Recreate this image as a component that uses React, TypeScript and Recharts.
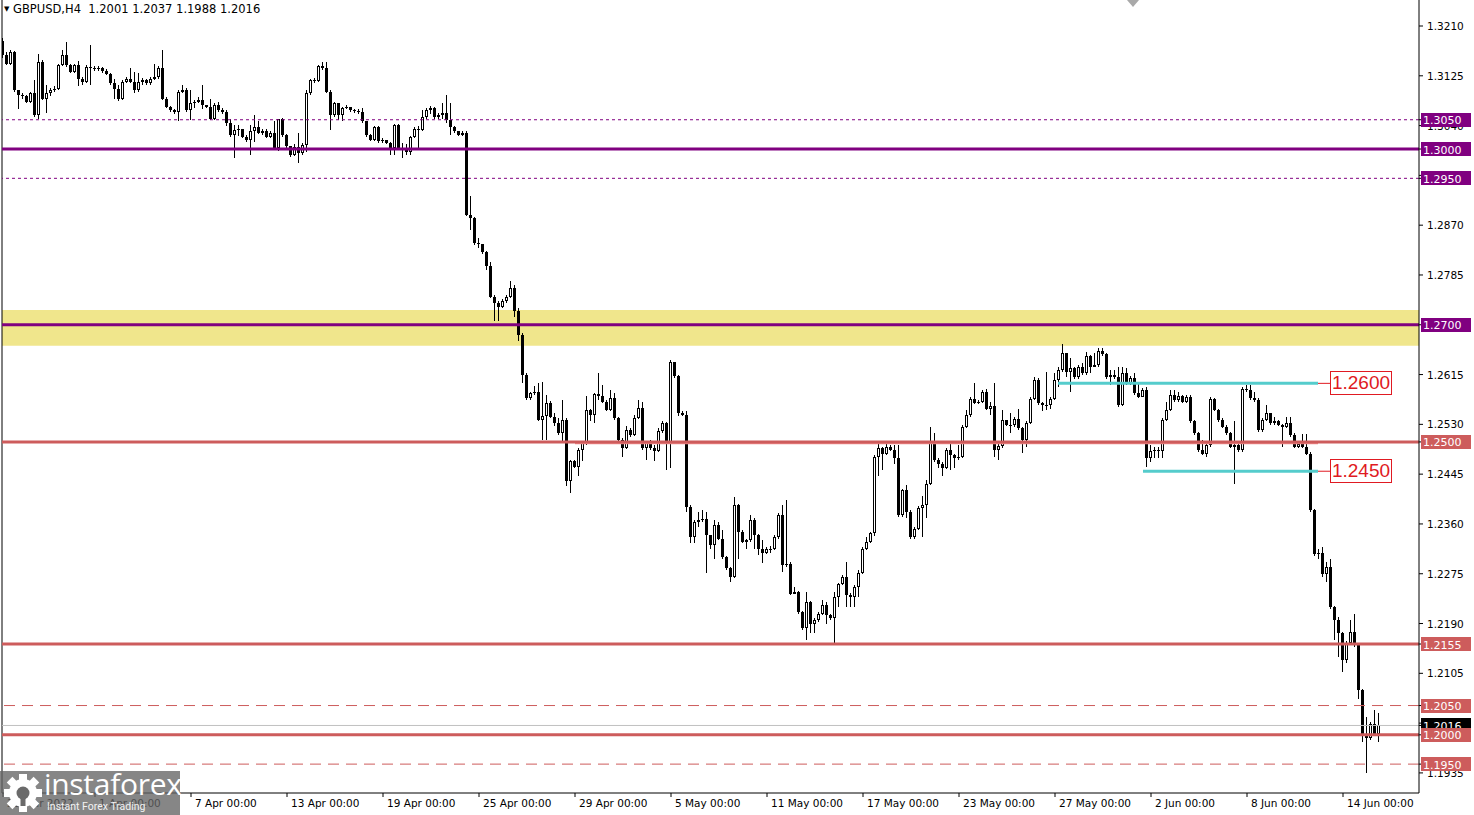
import React from 'react'
import { ComposedChart, Bar, XAxis, YAxis, ReferenceLine, ReferenceArea } from 'recharts'

const FONT = '"DejaVu Sans", Tahoma, sans-serif'
const PURPLE = '#800080'
const SALMON = '#cd5c5c'
const CYAN = '#55cccc'

// GBPUSD H4 candles, prices in pips (x 1e-4). index 0 = 28 Mar 00:00
const firstOpen = 13190
const closes = [
  13185, 13160, 13146, 13166, 13101, 13092, 13090, 13081, 13095, 13058,
  13149, 13086, 13095, 13101, 13103, 13143, 13160, 13143, 13132, 13143,
  13120, 13114, 13140, 13138, 13136, 13139, 13133, 13128, 13112, 13103,
  13085, 13115, 13119, 13115, 13100, 13115, 13118, 13113, 13120, 13123,
  13138, 13086, 13072, 13066, 13063, 13098, 13100, 13066, 13078, 13081,
  13084, 13075, 13072, 13052, 13075, 13066, 13064, 13044, 13024, 13032,
  13035, 13021, 13015, 13030, 13038, 13027, 13031, 13021, 13027, 13001,
  13051, 13024, 13005, 12990, 13004, 12993, 13007, 13095, 13118, 13116,
  13141, 13138, 13098, 13058, 13078, 13058, 13070, 13072, 13067, 13065,
  13063, 13047, 13024, 13016, 13038, 13013, 13015, 13011, 13001, 13041,
  13001, 12998, 12995, 13021, 13035, 13033, 13055, 13067, 13070, 13055,
  13058, 13061, 13050, 13038, 13030, 13024, 13027, 12888, 12882, 12839,
  12838, 12825, 12800, 12748, 12737, 12731, 12740, 12748, 12763, 12723,
  12683, 12615, 12575, 12583, 12586, 12538, 12545, 12567, 12543, 12532,
  12515, 12538, 12433, 12467, 12458, 12487, 12498, 12555, 12546, 12581,
  12578, 12569, 12555, 12575, 12541, 12504, 12490, 12521, 12512, 12541,
  12558, 12490, 12498, 12490, 12484, 12518, 12532, 12498, 12637, 12612,
  12549, 12546, 12389, 12338, 12364, 12367, 12369, 12341, 12324, 12358,
  12335, 12304, 12284, 12270, 12392, 12347, 12330, 12332, 12367, 12341,
  12318, 12311, 12317, 12318, 12337, 12375, 12290, 12292, 12241, 12244,
  12210, 12182, 12227, 12190, 12196, 12207, 12221, 12204, 12199, 12236,
  12258, 12270, 12239, 12236, 12253, 12276, 12318, 12330, 12344, 12475,
  12489, 12480, 12492, 12486, 12472, 12375, 12418, 12381, 12338, 12352,
  12387, 12392, 12429, 12498, 12469, 12463, 12455, 12486, 12478, 12472,
  12475, 12526, 12546, 12573, 12567, 12569, 12586, 12557, 12561, 12486,
  12493, 12537, 12529, 12529, 12539, 12523, 12503, 12532, 12574, 12606,
  12566, 12563, 12563, 12574, 12606, 12623, 12651, 12620, 12626, 12611,
  12628, 12617, 12646, 12628, 12631, 12656, 12650, 12611, 12614, 12611,
  12563, 12617, 12600, 12609, 12583, 12577, 12588, 12472, 12484, 12486,
  12485, 12537, 12555, 12580, 12572, 12578, 12569, 12577, 12535, 12515,
  12486, 12480, 12495, 12573, 12555, 12537, 12526, 12515, 12492, 12495,
  12486, 12591, 12589, 12575, 12572, 12520, 12537, 12549, 12532, 12535,
  12529, 12526, 12532, 12512, 12492, 12497, 12492, 12480, 12383, 12309,
  12310, 12275, 12287, 12218, 12196, 12173, 12127, 12156, 12176, 12153,
  12076, 11999, 11994, 12019, 12002, 12016,
]
const highs = [
  13195, 13190, 13166, 13169, 13168, 13101, 13095, 13092, 13097, 13118,
  13163, 13152, 13109, 13104, 13108, 13146, 13169, 13183, 13145, 13146,
  13150, 13123, 13143, 13177, 13142, 13142, 13140, 13136, 13130, 13120,
  13110, 13118, 13123, 13138, 13132, 13129, 13121, 13120, 13123, 13146,
  13142, 13169, 13088, 13073, 13068, 13101, 13109, 13105, 13100, 13084,
  13088, 13109, 13076, 13086, 13078, 13080, 13070, 13066, 13052, 13041,
  13041, 13028, 13024, 13041, 13058, 13047, 13035, 13035, 13030, 13047,
  13052, 13053, 13026, 13006, 13008, 13027, 13010, 13101, 13120, 13122,
  13143, 13149, 13149, 13100, 13080, 13078, 13072, 13075, 13072, 13069,
  13068, 13070, 13048, 13025, 13040, 13040, 13018, 13016, 13012, 13043,
  13043, 13010, 13008, 13023, 13037, 13040, 13067, 13070, 13073, 13072,
  13062, 13078, 13092, 13078, 13040, 13031, 13031, 13030, 12919, 12884,
  12848, 12838, 12826, 12808, 12750, 12740, 12744, 12751, 12774, 12768,
  12729, 12686, 12617, 12586, 12595, 12600, 12603, 12580, 12570, 12549,
  12540, 12572, 12540, 12470, 12470, 12490, 12502, 12578, 12557, 12583,
  12618, 12598, 12572, 12589, 12583, 12543, 12506, 12527, 12524, 12546,
  12572, 12569, 12502, 12504, 12494, 12524, 12535, 12534, 12640, 12632,
  12614, 12552, 12552, 12392, 12366, 12381, 12384, 12381, 12340, 12367,
  12364, 12350, 12306, 12286, 12406, 12394, 12349, 12335, 12375, 12370,
  12343, 12332, 12320, 12322, 12341, 12378, 12392, 12401, 12295, 12253,
  12246, 12212, 12244, 12229, 12199, 12210, 12230, 12227, 12206, 12244,
  12260, 12272, 12295, 12242, 12255, 12281, 12320, 12338, 12347, 12478,
  12498, 12492, 12498, 12494, 12495, 12495, 12420, 12426, 12383, 12355,
  12390, 12407, 12435, 12525, 12515, 12472, 12465, 12489, 12498, 12480,
  12495, 12529, 12555, 12577, 12600, 12571, 12589, 12590, 12569, 12600,
  12500, 12555, 12537, 12549, 12542, 12557, 12525, 12535, 12577, 12611,
  12609, 12568, 12620, 12577, 12617, 12628, 12667, 12652, 12643, 12628,
  12631, 12634, 12654, 12648, 12652, 12660, 12660, 12652, 12623, 12623,
  12628, 12628, 12626, 12612, 12617, 12600, 12592, 12594, 12495, 12492,
  12492, 12540, 12569, 12589, 12589, 12586, 12580, 12580, 12580, 12537,
  12517, 12503, 12498, 12577, 12575, 12557, 12540, 12529, 12517, 12535,
  12497, 12594, 12597, 12597, 12586, 12575, 12540, 12563, 12549, 12543,
  12537, 12531, 12543, 12543, 12515, 12500, 12514, 12514, 12483, 12385,
  12318, 12321, 12295, 12301, 12220, 12201, 12175, 12160, 12196, 12207,
  12155, 12079, 12031, 12022, 12042, 12037,
]
const lows = [
  13180, 13155, 13143, 13144, 13098, 13069, 13086, 13078, 13079, 13055,
  13052, 13083, 13061, 13090, 13098, 13100, 13141, 13140, 13130, 13130,
  13108, 13110, 13112, 13110, 13133, 13133, 13130, 13126, 13110, 13086,
  13082, 13083, 13112, 13112, 13095, 13098, 13110, 13110, 13110, 13117,
  13120, 13083, 13070, 13063, 13060, 13047, 13096, 13064, 13049, 13070,
  13078, 13069, 13070, 13049, 13050, 13064, 13060, 13040, 13021, 12984,
  13022, 13018, 13012, 12990, 13012, 13025, 13024, 13019, 13018, 12998,
  12996, 13021, 13002, 12986, 12988, 12976, 12990, 12995, 13093, 13112,
  13114, 13135, 13095, 13032, 13055, 13050, 13047, 13068, 13064, 13062,
  13060, 13044, 13021, 13013, 13014, 13010, 13010, 13008, 12990, 12990,
  12998, 12984, 12990, 12990, 13019, 12998, 13030, 13052, 13060, 13052,
  13052, 13052, 13044, 13024, 13028, 13022, 13022, 12885, 12862, 12836,
  12831, 12820, 12794, 12745, 12706, 12706, 12728, 12738, 12745, 12714,
  12672, 12600, 12572, 12572, 12580, 12535, 12504, 12504, 12540, 12528,
  12512, 12500, 12424, 12413, 12455, 12441, 12467, 12495, 12535, 12532,
  12572, 12566, 12552, 12552, 12538, 12498, 12475, 12488, 12508, 12510,
  12539, 12487, 12470, 12486, 12467, 12482, 12516, 12452, 12455, 12609,
  12545, 12544, 12380, 12327, 12327, 12355, 12364, 12276, 12318, 12301,
  12332, 12301, 12281, 12261, 12268, 12301, 12327, 12318, 12330, 12318,
  12307, 12293, 12308, 12310, 12316, 12335, 12278, 12287, 12238, 12240,
  12207, 12179, 12162, 12173, 12173, 12193, 12205, 12190, 12196, 12156,
  12219, 12256, 12219, 12219, 12219, 12236, 12274, 12315, 12328, 12340,
  12441, 12452, 12478, 12484, 12463, 12372, 12372, 12370, 12335, 12335,
  12350, 12338, 12370, 12427, 12466, 12455, 12441, 12453, 12452, 12455,
  12470, 12473, 12524, 12543, 12565, 12565, 12566, 12555, 12546, 12475,
  12469, 12490, 12527, 12515, 12526, 12520, 12481, 12492, 12530, 12572,
  12563, 12552, 12554, 12557, 12572, 12594, 12620, 12611, 12586, 12608,
  12608, 12614, 12614, 12617, 12628, 12628, 12647, 12608, 12597, 12608,
  12560, 12562, 12597, 12598, 12580, 12575, 12576, 12458, 12466, 12472,
  12472, 12472, 12535, 12552, 12569, 12569, 12566, 12566, 12532, 12512,
  12483, 12477, 12474, 12492, 12552, 12534, 12523, 12512, 12489, 12429,
  12483, 12483, 12586, 12572, 12569, 12517, 12517, 12535, 12529, 12529,
  12527, 12492, 12524, 12509, 12489, 12489, 12489, 12477, 12380, 12306,
  12301, 12270, 12261, 12215, 12162, 12133, 12107, 12122, 12153, 12150,
  12062, 11988, 11934, 11991, 11999, 11988,
]

// bottom axis: candle index -> label
const dateTicks = [1, 24, 48, 72, 96, 120, 144, 168, 192, 216, 240, 264, 288, 312, 336]
const dateLabels = [
  '28 Mar 2022', '1 Apr 00:00', '7 Apr 00:00', '13 Apr 00:00', '19 Apr 00:00',
  '25 Apr 00:00', '29 Apr 00:00', '5 May 00:00', '11 May 00:00', '17 May 00:00',
  '23 May 00:00', '27 May 00:00', '2 Jun 00:00', '8 Jun 00:00', '14 Jun 00:00',
]

const priceTicks = [
  1.321, 1.3125, 1.304, 1.2955, 1.287, 1.2785, 1.2615, 1.253,
  1.2445, 1.236, 1.2275, 1.219, 1.2105, 1.202, 1.1935,
]
// level tags drawn on the price scale (drawn after the plain ticks)
const tagLevels = [1.305, 1.3, 1.295, 1.27, 1.25, 1.2155, 1.205, 1.2016, 1.2, 1.195]
const tagColors = [PURPLE, PURPLE, PURPLE, PURPLE, SALMON, SALMON, SALMON, '#000', SALMON, SALMON]

const lastPrice = 1.2016
const zoneLow = 1.2664
const zoneHigh = 1.2725

const rows = closes.map((c, i) => {
  const o = i === 0 ? firstOpen : closes[i - 1]
  const hi = Math.max(highs[i], o, c) / 1e4
  const lo = Math.min(lows[i], o, c) / 1e4
  return { i, o: o / 1e4, c: c / 1e4, hi, lo, range: [lo, hi] }
})

function Candle(props: any) {
  const { x, y, width, height, payload } = props
  if (!payload) return null
  const top = height >= 0 ? y : y + height
  const h = Math.abs(height)
  const span = payload.hi - payload.lo
  const yOf = (p: number) => top + (span > 0 ? ((payload.hi - p) / span) * h : 0)
  const cx = Math.floor(x + width / 2) + 0.5
  const yo = Math.round(yOf(payload.o))
  const yc = Math.round(yOf(payload.c))
  const bTop = Math.min(yo, yc)
  const bBot = Math.max(yo, yc)
  const bull = payload.c > payload.o
  let body
  if (bBot - bTop < 2) {
    body = <line x1={cx - 1.5} x2={cx + 1.5} y1={bTop + 0.5} y2={bTop + 0.5} stroke="#000" />
  } else if (bull) {
    body = <rect x={cx - 1} y={bTop + 0.5} width={2} height={bBot - bTop - 1} fill="#fff" stroke="#000" />
  } else {
    body = <rect x={cx - 1.5} y={bTop} width={3} height={bBot - bTop} fill="#000" />
  }
  return (
    <g>
      <line x1={cx} x2={cx} y1={Math.round(top)} y2={Math.round(top + h)} stroke="#000" />
      {body}
    </g>
  )
}

function PriceTick(props: any) {
  const { x, y, payload } = props
  const v = Number(payload.value)
  const label = v.toFixed(4)
  const k = tagLevels.findIndex((t) => Math.abs(t - v) < 1e-7)
  if (k < 0) {
    return (
      <text x={x + 1} y={y + 4} fontSize={10.5} fontFamily={FONT} fill="#000">
        {label}
      </text>
    )
  }
  return (
    <g>
      <rect x={x - 5} y={Math.round(y) - 7} width={50} height={14} fill={tagColors[k]} />
      <text x={x - 3} y={y + 4.5} fontSize={11} fontFamily={FONT} fill="#fff">
        {label}
      </text>
    </g>
  )
}

function DateTick(props: any) {
  const { x, y, payload } = props
  const k = dateTicks.indexOf(payload.value)
  return (
    <text x={x + 4} y={y + 10} fontSize={10.5} fontFamily={FONT} fill="#000">
      {dateLabels[k]}
    </text>
  )
}

function Gear() {
  const teeth = [0, 45, 90, 135, 180, 225, 270, 315]
  return (
    <svg width={40} height={40} style={{ position: 'absolute', left: 3, top: 2 }}>
      <g transform="translate(20,20)">
        {teeth.map((a) => (
          <rect key={a} x={-4} y={-19} width={8} height={8} fill="#fff" transform={`rotate(${a})`} />
        ))}
        <circle r={14} fill="#fff" />
        <circle r={6.5} fill="#6a6a6a" />
        <rect x={-2.5} y={-2} width={5} height={15} fill="#6a6a6a" />
      </g>
    </svg>
  )
}

export default function App() {
  return (
    <div style={{ position: 'absolute', left: 0, top: 0, width: 1474, height: 815, background: '#fff', overflow: 'hidden' }}>
      <ComposedChart width={1474} height={815} data={rows} margin={{ top: 0, right: 0, bottom: 0, left: 2 }}>
        <XAxis
          dataKey="i"
          type="number"
          domain={[0.75, 355]}
          allowDataOverflow
          ticks={dateTicks}
          interval={0}
          height={22}
          tickSize={4}
          tickMargin={0}
          axisLine={{ stroke: '#000' }}
          tickLine={{ stroke: '#000' }}
          tick={<DateTick />}
        />
        <YAxis
          orientation="right"
          type="number"
          domain={[1.19007, 1.32544]}
          allowDataOverflow
          ticks={[...priceTicks, ...tagLevels]}
          interval={0}
          width={55}
          tickSize={4}
          tickMargin={3}
          axisLine={{ stroke: '#000' }}
          tickLine={{ stroke: '#000' }}
          tick={<PriceTick />}
        />
        <ReferenceArea y1={zoneLow} y2={zoneHigh} fill="#f0e68c" fillOpacity={1} stroke="none" />
        <Bar dataKey="range" barSize={3} isAnimationActive={false} shape={(p: any) => <Candle {...p} />} />
        <ReferenceLine x={0.75} stroke="#000" />
        <ReferenceLine y={1.305} stroke={PURPLE} strokeDasharray="3 3" />
        <ReferenceLine y={1.3} stroke={PURPLE} strokeWidth={3} />
        <ReferenceLine y={1.295} stroke={PURPLE} strokeDasharray="3 3" />
        <ReferenceLine y={1.27} stroke={PURPLE} strokeWidth={3} />
        <ReferenceLine
          segment={[{ x: 144, y: 1.24985 }, { x: 329.75, y: 1.24985 }]}
          stroke="#f08a8a"
          strokeWidth={3}
        />
        <ReferenceLine y={1.25} stroke={SALMON} strokeWidth={3} />
        <ReferenceLine y={1.2155} stroke={SALMON} strokeWidth={3} />
        <ReferenceLine y={1.205} stroke={SALMON} strokeDasharray="11 7" />
        <ReferenceLine y={lastPrice} stroke="#c0c0c0" />
        <ReferenceLine y={1.2} stroke={SALMON} strokeWidth={3} />
        <ReferenceLine y={1.195} stroke={SALMON} strokeDasharray="11 7" />
        <ReferenceLine segment={[{ x: 264.75, y: 1.26 }, { x: 329.75, y: 1.26 }]} stroke={CYAN} strokeWidth={3} />
        <ReferenceLine segment={[{ x: 286, y: 1.245 }, { x: 329.75, y: 1.245 }]} stroke={CYAN} strokeWidth={3} />
        <ReferenceLine segment={[{ x: 329.75, y: 1.26 }, { x: 332.75, y: 1.26 }]} stroke="#e01a22" />
        <ReferenceLine segment={[{ x: 329.75, y: 1.245 }, { x: 332.75, y: 1.245 }]} stroke="#e01a22" />
      </ComposedChart>

      {['1.2600', '1.2450'].map((t, k) => (
        <div
          key={t}
          style={{
            position: 'absolute',
            left: 1330,
            top: k === 0 ? 371 : 459,
            width: 60,
            height: 22,
            border: '1px solid #e01a22',
            background: '#fff',
            color: '#e01a22',
            fontFamily: '"Liberation Sans", Arial, sans-serif',
            fontSize: 19,
            lineHeight: '22px',
            textAlign: 'center',
          }}
        >
          {t}
        </div>
      ))}

      <div style={{ position: 'absolute', left: 4, top: 2, fontFamily: FONT, fontSize: 11.5, color: '#000', whiteSpace: 'pre' }}>
        <span style={{ fontSize: 7, verticalAlign: 2 }}>▼</span> GBPUSD,H4  1.2001 1.2037 1.1988 1.2016
      </div>

      <div
        style={{
          position: 'absolute',
          left: 1127,
          top: 0,
          width: 0,
          height: 0,
          borderLeft: '6px solid transparent',
          borderRight: '6px solid transparent',
          borderTop: '7px solid #a9a9a9',
        }}
      />

      <div style={{ position: 'absolute', left: 0, top: 771, width: 180, height: 44, background: 'rgba(100,100,100,0.78)' }}>
        <Gear />
        <div
          style={{
            position: 'absolute',
            left: 44,
            top: -8,
            fontFamily: '"Open Sans", sans-serif',
            fontSize: 30,
            color: '#fff',
            letterSpacing: -0.3,
          }}
        >
          instaforex
        </div>
        <div style={{ position: 'absolute', left: 47, top: 29, fontFamily: 'Roboto, sans-serif', fontSize: 10.5, color: '#f2f2f2' }}>
          Instant Forex Trading
        </div>
      </div>
    </div>
  )
}
